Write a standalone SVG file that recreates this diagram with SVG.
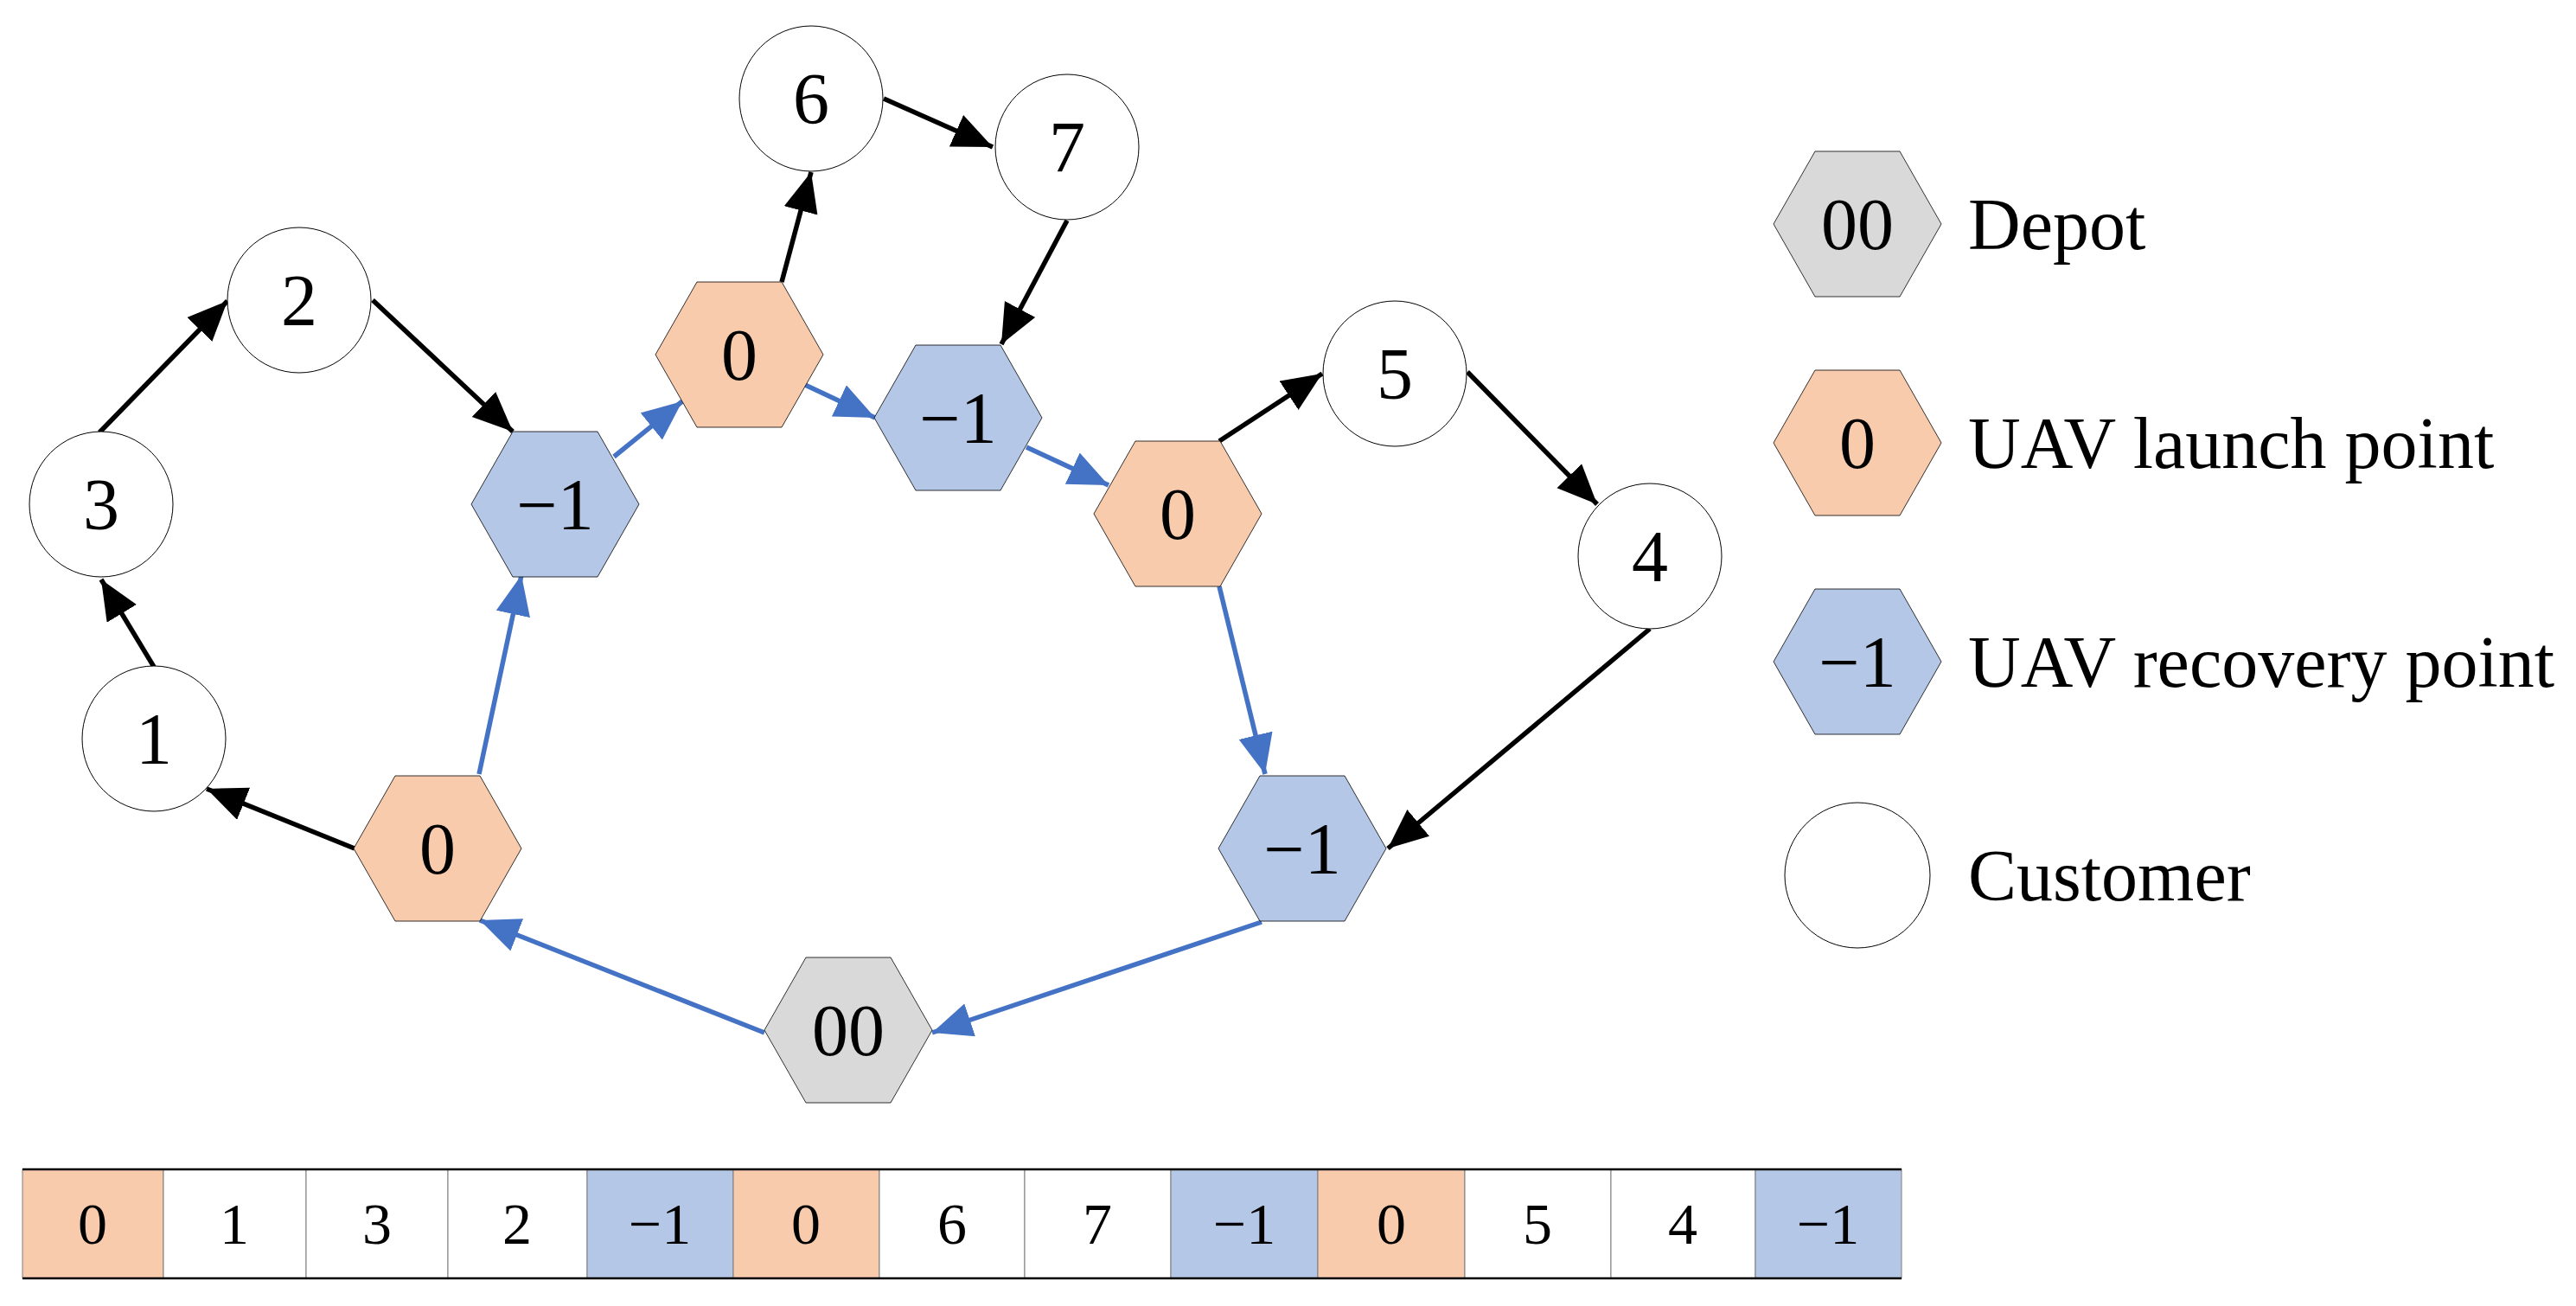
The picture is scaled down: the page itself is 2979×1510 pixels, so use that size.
<svg xmlns="http://www.w3.org/2000/svg" width="2979" height="1510" viewBox="0 0 2979 1510">
<style>
.t{font-family:"Liberation Serif","Times New Roman",serif;font-size:84px;fill:#000;text-anchor:middle;dominant-baseline:central}
.lg{font-family:"Liberation Serif","Times New Roman",serif;font-size:84px;fill:#000;dominant-baseline:central}
.c{fill:#fff;stroke:#000;stroke-width:1}
.h{stroke:#000;stroke-width:0.8}
.o{fill:#F8CBAD}.b{fill:#B4C7E7}.g{fill:#D9D9D9}
.k{stroke:#000;stroke-width:5.5;fill:none;marker-end:url(#ak)}
.u{stroke:#4472C4;stroke-width:5.5;fill:none;marker-end:url(#au)}
.cell{stroke:#7f7f7f;stroke-width:1}
.ct{font-family:"Liberation Serif","Times New Roman",serif;font-size:68px;fill:#000;text-anchor:middle;dominant-baseline:central}
</style>
<defs>
<path id="hx" d="M-97,0 L-49,-84 L49,-84 L97,0 L49,84 L-49,84 Z"/>
<marker id="ak" markerUnits="userSpaceOnUse" markerWidth="50" markerHeight="42" refX="46" refY="20" orient="auto"><path d="M0,0 L46,20 L0,40 Z" fill="#000"/></marker>
<marker id="au" markerUnits="userSpaceOnUse" markerWidth="50" markerHeight="42" refX="46" refY="20" orient="auto"><path d="M0,0 L46,20 L0,40 Z" fill="#4472C4"/></marker>
</defs>
<g id="connectors">
<line class="k" x1="178" y1="771" x2="117" y2="670"/>
<line class="k" x1="115" y1="500" x2="263" y2="348"/>
<line class="k" x1="431" y1="347" x2="593" y2="499"/>
<line class="u" x1="710" y1="528" x2="789" y2="464"/>
<line class="k" x1="904" y1="326" x2="938" y2="199"/>
<line class="k" x1="1022" y1="114" x2="1148" y2="170"/>
<line class="k" x1="1234" y1="255" x2="1158" y2="398"/>
<line class="u" x1="931" y1="445" x2="1012" y2="483"/>
<line class="u" x1="1187" y1="517" x2="1282" y2="561"/>
<line class="k" x1="1410" y1="510" x2="1529" y2="432"/>
<line class="k" x1="1697" y1="430" x2="1847" y2="583"/>
<line class="u" x1="1410" y1="678" x2="1463" y2="895"/>
<line class="k" x1="1908" y1="727" x2="1605" y2="981"/>
<line class="u" x1="1459" y1="1066" x2="1078" y2="1194"/>
<line class="u" x1="884" y1="1194" x2="555" y2="1064"/>
<line class="k" x1="410" y1="981" x2="239" y2="912"/>
<line class="u" x1="554" y1="895" x2="603" y2="665"/>
</g>
<g id="n6"><ellipse class="c" cx="938" cy="114" rx="83" ry="84"/><text class="t" x="938" y="114">6</text></g>
<g id="n7"><ellipse class="c" cx="1234" cy="170" rx="83" ry="84"/><text class="t" x="1234" y="170">7</text></g>
<g id="n2"><ellipse class="c" cx="346" cy="347" rx="83" ry="84"/><text class="t" x="346" y="347">2</text></g>
<g id="n3"><ellipse class="c" cx="117" cy="583" rx="83" ry="84"/><text class="t" x="117" y="583">3</text></g>
<g id="n1"><ellipse class="c" cx="178" cy="854" rx="83" ry="84"/><text class="t" x="178" y="854">1</text></g>
<g id="n5"><ellipse class="c" cx="1613" cy="432" rx="83" ry="84"/><text class="t" x="1613" y="432">5</text></g>
<g id="n4"><ellipse class="c" cx="1908" cy="643" rx="83" ry="84"/><text class="t" x="1908" y="643">4</text></g>
<g id="l1"><use href="#hx" class="h o" x="855" y="410"/><text class="t" x="855" y="410">0</text></g>
<g id="r1"><use href="#hx" class="h b" x="642" y="583"/><text class="t" x="642" y="583">−1</text></g>
<g id="r2"><use href="#hx" class="h b" x="1108" y="483"/><text class="t" x="1108" y="483">−1</text></g>
<g id="l2"><use href="#hx" class="h o" x="1362" y="594"/><text class="t" x="1362" y="594">0</text></g>
<g id="l0"><use href="#hx" class="h o" x="506" y="981"/><text class="t" x="506" y="981">0</text></g>
<g id="depot"><use href="#hx" class="h g" x="981" y="1191"/><text class="t" x="981" y="1191">00</text></g>
<g id="r3"><use href="#hx" class="h b" x="1506" y="981"/><text class="t" x="1506" y="981">−1</text></g>
<g id="legend">
<use href="#hx" class="h g" x="2148" y="259"/><text class="t" x="2148" y="259">00</text><text class="lg" x="2276" y="259">Depot</text>
<use href="#hx" class="h o" x="2148" y="512"/><text class="t" x="2148" y="512">0</text><text class="lg" x="2276" y="512">UAV launch point</text>
<use href="#hx" class="h b" x="2148" y="765"/><text class="t" x="2148" y="765">−1</text><text class="lg" x="2276" y="765">UAV recovery point</text>
<ellipse class="c" cx="2148" cy="1012" rx="84" ry="84"/><text class="lg" x="2276" y="1012">Customer</text>
</g>
<g id="array">
<rect class="cell o" x="26" y="1352" width="163" height="126"/>
<rect class="cell" fill="#fff" x="189" y="1352" width="165" height="126"/>
<rect class="cell" fill="#fff" x="354" y="1352" width="164" height="126"/>
<rect class="cell" fill="#fff" x="518" y="1352" width="161" height="126"/>
<rect class="cell b" x="679" y="1352" width="169" height="126"/>
<rect class="cell o" x="848" y="1352" width="169" height="126"/>
<rect class="cell" fill="#fff" x="1017" y="1352" width="168" height="126"/>
<rect class="cell" fill="#fff" x="1185" y="1352" width="169" height="126"/>
<rect class="cell b" x="1354" y="1352" width="170" height="126"/>
<rect class="cell o" x="1524" y="1352" width="170" height="126"/>
<rect class="cell" fill="#fff" x="1694" y="1352" width="169" height="126"/>
<rect class="cell" fill="#fff" x="1863" y="1352" width="167" height="126"/>
<rect class="cell b" x="2030" y="1352" width="169" height="126"/>
<line x1="26" y1="1352" x2="2199" y2="1352" stroke="#000" stroke-width="2.5"/>
<line x1="26" y1="1478" x2="2199" y2="1478" stroke="#000" stroke-width="2.5"/>
<text class="ct" x="107" y="1415">0</text>
<text class="ct" x="271" y="1415">1</text>
<text class="ct" x="436" y="1415">3</text>
<text class="ct" x="598" y="1415">2</text>
<text class="ct" x="763" y="1415">−1</text>
<text class="ct" x="932" y="1415">0</text>
<text class="ct" x="1101" y="1415">6</text>
<text class="ct" x="1269" y="1415">7</text>
<text class="ct" x="1439" y="1415">−1</text>
<text class="ct" x="1609" y="1415">0</text>
<text class="ct" x="1778" y="1415">5</text>
<text class="ct" x="1946" y="1415">4</text>
<text class="ct" x="2114" y="1415">−1</text>
</g>
</svg>
